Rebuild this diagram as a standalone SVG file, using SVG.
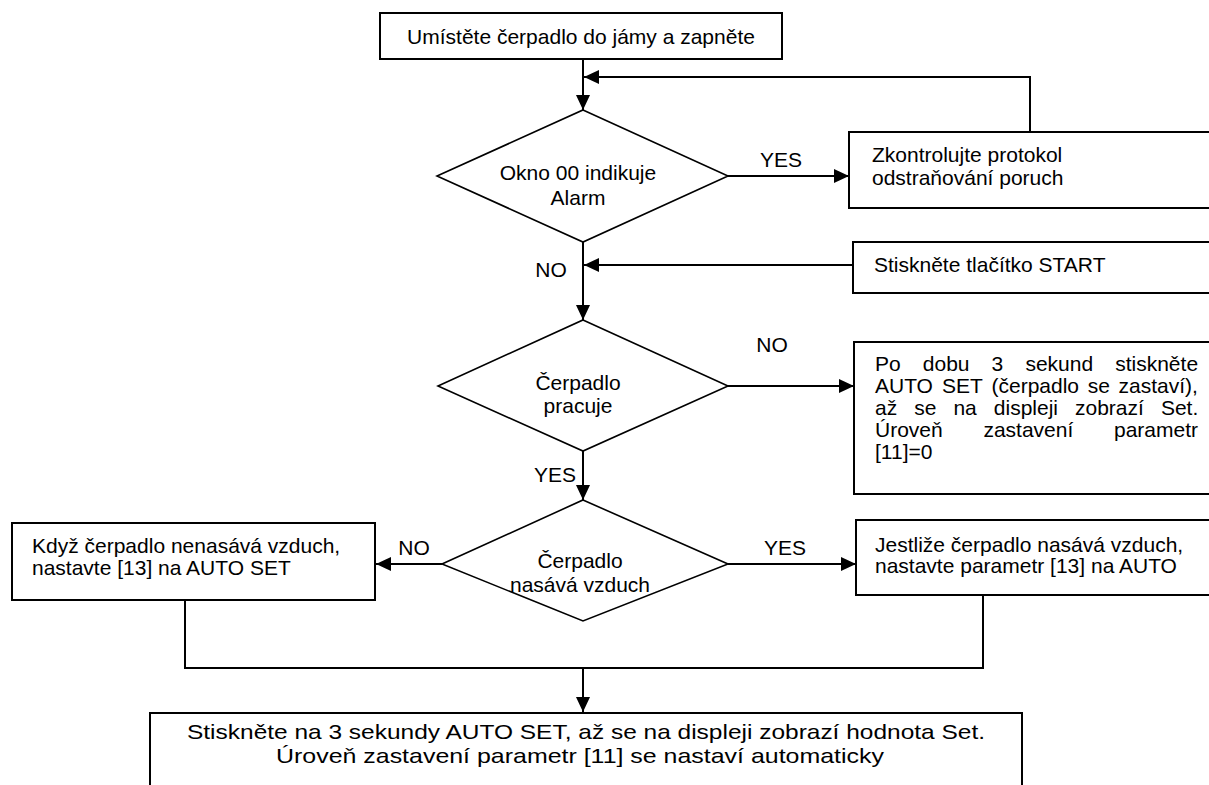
<svg xmlns="http://www.w3.org/2000/svg" width="1209" height="785" viewBox="0 0 1209 785">
<style>
text{font-family:"Liberation Sans",Arial,sans-serif;font-size:21px;fill:#000}
.box{fill:#fff;stroke:#000;stroke-width:2}
.dia{fill:#fff;stroke:#000;stroke-width:1.6}
.c{fill:none;stroke:#000;stroke-width:2}
.m{text-anchor:middle}
</style>
<defs>
<marker id="ah" markerUnits="userSpaceOnUse" markerWidth="16" markerHeight="14" refX="15" refY="7" orient="auto">
<path d="M0,0 L15,7 L0,14 z" fill="#000"/>
</marker>
</defs>
<rect width="1209" height="785" fill="#fff"/>
<g id="connectors">
<path class="c" d="M583,59 V110" marker-end="url(#ah)"/>
<path class="c" d="M1030,132 V77 H584" marker-end="url(#ah)"/>
<path class="c" d="M728,176 H849" marker-end="url(#ah)"/>
<path class="c" d="M583,242 V320" marker-end="url(#ah)"/>
<path class="c" d="M853,265 H584" marker-end="url(#ah)"/>
<path class="c" d="M728,386 H854" marker-end="url(#ah)"/>
<path class="c" d="M583,451 V500" marker-end="url(#ah)"/>
<path class="c" d="M728,564 H856" marker-end="url(#ah)"/>
<path class="c" d="M442,564 H376" marker-end="url(#ah)"/>
<path class="c" d="M185,600 V668 H983 V595"/>
<path class="c" d="M583,668 V712" marker-end="url(#ah)"/>
<text x="781" y="167" class="m">YES</text>
<text x="551" y="277" class="m">NO</text>
<text x="772" y="352" class="m">NO</text>
<text x="555" y="482" class="m">YES</text>
<text x="414" y="555" class="m">NO</text>
<text x="785" y="555" class="m">YES</text>
</g>
<g id="n_start">
<rect class="box" x="380" y="13" width="402" height="46"/>
<text x="581" y="44" class="m">Umístěte čerpadlo do jámy a zapněte</text>
</g>
<g id="n_alarm">
<polygon class="dia" points="583,110 728,176 583,242 437,176"/>
<text x="578" y="180" class="m">Okno 00 indikuje</text>
<text x="578" y="205" class="m">Alarm</text>
</g>
<g id="n_check">
<rect class="box" x="849" y="132" width="370" height="76"/>
<text x="872" y="162">Zkontrolujte protokol</text>
<text x="872" y="185">odstraňování poruch</text>
</g>
<g id="n_startbtn">
<rect class="box" x="853" y="242" width="370" height="51"/>
<text x="874" y="272">Stiskněte tlačítko START</text>
</g>
<g id="n_works">
<polygon class="dia" points="583,320 728,386 583,451 438,386"/>
<text x="578" y="390" class="m">Čerpadlo</text>
<text x="578" y="413" class="m">pracuje</text>
</g>
<g id="n_autoset">
<rect class="box" x="854" y="342" width="370" height="152"/>
<text y="371"><tspan x="875">Po</tspan><tspan x="922.8">dobu</tspan><tspan x="991.6">3</tspan><tspan x="1025.4">sekund</tspan><tspan x="1115.2">stiskněte</tspan></text>
<text y="393"><tspan x="875">AUTO</tspan><tspan x="942">SET</tspan><tspan x="991.5">(čerpadlo</tspan><tspan x="1087.7">se</tspan><tspan x="1118.6">zastaví),</tspan></text>
<text y="415"><tspan x="875">až</tspan><tspan x="914.2">se</tspan><tspan x="953.4">na</tspan><tspan x="993.8">displeji</tspan><tspan x="1075">zobrazí</tspan><tspan x="1160.9">Set.</tspan></text>
<text y="437"><tspan x="875">Úroveň</tspan><tspan x="983.4">zastavení</tspan><tspan x="1114">parametr</tspan></text>
<text x="875" y="459">[11]=0</text>
</g>
<g id="n_air">
<polygon class="dia" points="583,500 728,564 583,621 442,564"/>
<text x="580" y="568" class="m">Čerpadlo</text>
<text x="580" y="592" class="m">nasává vzduch</text>
</g>
<g id="n_left">
<rect class="box" x="12" y="523" width="363" height="77"/>
<text x="32" y="553">Když čerpadlo nenasává vzduch,</text>
<text x="32" y="575">nastavte [13] na AUTO SET</text>
</g>
<g id="n_right">
<rect class="box" x="856" y="520" width="370" height="75"/>
<text x="875" y="552">Jestliže čerpadlo nasává vzduch,</text>
<text x="875" y="573">nastavte parametr [13] na AUTO</text>
</g>
<g id="n_final">
<rect class="box" x="150" y="713" width="872" height="90"/>
<text x="586" y="739" class="m" font-size="24" textLength="798" lengthAdjust="spacingAndGlyphs">Stiskněte na 3 sekundy AUTO SET, až se na displeji zobrazí hodnota Set.</text>
<text x="580" y="763" class="m" font-size="24" textLength="608" lengthAdjust="spacingAndGlyphs">Úroveň zastavení parametr [11] se nastaví automaticky</text>
</g>
</svg>
